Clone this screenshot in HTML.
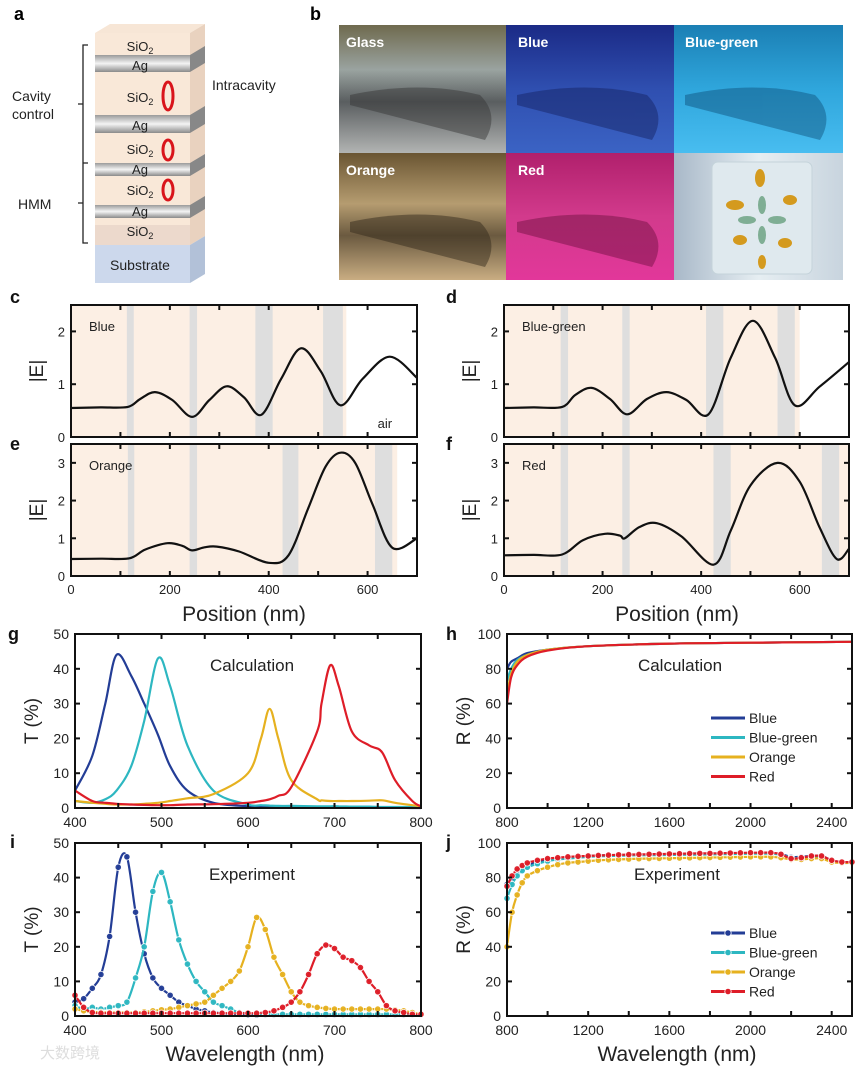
<!DOCTYPE html>
<html><head><meta charset="utf-8"><style>
html,body{margin:0;padding:0;background:#fff;}
svg{display:block;font-family:"Liberation Sans",Arial,sans-serif;}
</style></head><body>
<svg id="fig" width="865" height="1066" viewBox="0 0 865 1066" xmlns="http://www.w3.org/2000/svg">
<defs>
<linearGradient id="agG" x1="0" y1="0" x2="0" y2="1"><stop offset="0" stop-color="#9a9a9a"/><stop offset="0.5" stop-color="#f4f4f4"/><stop offset="1" stop-color="#8a8a8a"/></linearGradient>
<linearGradient id="pGlass" x1="0" y1="0" x2="0" y2="1"><stop offset="0" stop-color="#6f6a4e"/><stop offset="0.35" stop-color="#9aa3a0"/><stop offset="0.6" stop-color="#5a5e60"/><stop offset="1" stop-color="#b2b4b3"/></linearGradient>
<linearGradient id="pBlue" x1="0" y1="0" x2="0" y2="1"><stop offset="0" stop-color="#1b2a86"/><stop offset="0.5" stop-color="#2f4fb0"/><stop offset="1" stop-color="#3b63c4"/></linearGradient>
<linearGradient id="pBG" x1="0" y1="0" x2="0" y2="1"><stop offset="0" stop-color="#1b7fb4"/><stop offset="0.5" stop-color="#2fa6dc"/><stop offset="1" stop-color="#48bdf0"/></linearGradient>
<linearGradient id="pOr" x1="0" y1="0" x2="0" y2="1"><stop offset="0" stop-color="#6a5532"/><stop offset="0.4" stop-color="#b59c70"/><stop offset="0.65" stop-color="#6b5a40"/><stop offset="1" stop-color="#c9ad82"/></linearGradient>
<linearGradient id="pRed" x1="0" y1="0" x2="0" y2="1"><stop offset="0" stop-color="#b0206c"/><stop offset="0.5" stop-color="#d23a8c"/><stop offset="1" stop-color="#e2379a"/></linearGradient>
<linearGradient id="pSam" x1="0" y1="0" x2="1" y2="0"><stop offset="0" stop-color="#a8b8c8"/><stop offset="0.5" stop-color="#e6eef2"/><stop offset="1" stop-color="#c8d4de"/></linearGradient>
</defs>

<!-- Panel a -->
<g>
<text x="14" y="20" font-size="18" font-weight="bold">a</text>
<polygon points="95,33 110,24 205,24 190,33" fill="#f7e6d6"/>
<rect x="95" y="33" width="95" height="212" fill="#f9e8d8"/>
<polygon points="190,33 205,24 205,236 190,245" fill="#e9d2bf"/>
<rect x="95" y="55" width="95" height="17" fill="url(#agG)"/>
<polygon points="190,55 205,46 205,63 190,72" fill="#888"/>
<rect x="95" y="115" width="95" height="18" fill="url(#agG)"/>
<polygon points="190,115 205,106 205,124 190,133" fill="#888"/>
<rect x="95" y="163" width="95" height="13" fill="url(#agG)"/>
<polygon points="190,163 205,154 205,167 190,176" fill="#888"/>
<rect x="95" y="205" width="95" height="13" fill="url(#agG)"/>
<polygon points="190,205 205,196 205,209 190,218" fill="#888"/>
<rect x="95" y="225" width="95" height="20" fill="#ecd9cc"/>
<rect x="95" y="245" width="95" height="38" fill="#ccd8ec"/>
<polygon points="190,245 205,236 205,274 190,283" fill="#b2c1d8"/>
<g font-size="13" fill="#222" text-anchor="middle">
<text x="140" y="51">SiO<tspan font-size="9" dy="3">2</tspan></text>
<text x="140" y="70">Ag</text>
<text x="140" y="102">SiO<tspan font-size="9" dy="3">2</tspan></text>
<text x="140" y="130">Ag</text>
<text x="140" y="154">SiO<tspan font-size="9" dy="3">2</tspan></text>
<text x="140" y="174">Ag</text>
<text x="140" y="195">SiO<tspan font-size="9" dy="3">2</tspan></text>
<text x="140" y="216">Ag</text>
<text x="140" y="236">SiO<tspan font-size="9" dy="3">2</tspan></text>
<text x="140" y="270" font-size="14">Substrate</text>
</g>
<g fill="none" stroke="#d9141b" stroke-width="3">
<ellipse cx="168" cy="96" rx="5" ry="14"/>
<ellipse cx="168" cy="150" rx="5" ry="10"/>
<ellipse cx="168" cy="190" rx="5" ry="10"/>
</g>
<path d="M88,45 H83 V163 H88 M83,104 H78 M88,163 H83 V243 H88 M83,203 H78" fill="none" stroke="#222" stroke-width="1.3"/>
<text x="12" y="101" font-size="14" fill="#222">Cavity</text>
<text x="12" y="119" font-size="14" fill="#222">control</text>
<text x="18" y="209" font-size="14" fill="#222">HMM</text>
<text x="212" y="90" font-size="14" fill="#222">Intracavity</text>
</g>

<!-- Panel b -->
<g>
<text x="310" y="20" font-size="18" font-weight="bold">b</text>
<rect x="339" y="25" width="167" height="128" fill="url(#pGlass)"/>
<rect x="506" y="25" width="168" height="128" fill="url(#pBlue)"/>
<rect x="674" y="25" width="169" height="128" fill="url(#pBG)"/>
<rect x="339" y="153" width="167" height="127" fill="url(#pOr)"/>
<rect x="506" y="153" width="168" height="127" fill="url(#pRed)"/>
<rect x="674" y="153" width="169" height="127" fill="url(#pSam)"/>
<g opacity="0.45">
<path d="M350,95 Q420,80 480,95 Q500,115 485,140 L350,105Z" fill="#333"/>
<path d="M517,95 Q587,80 647,95 Q667,115 652,140 L517,105Z" fill="#14205e"/>
<path d="M685,95 Q755,80 815,95 Q835,115 820,140 L685,105Z" fill="#0d4d78"/>
<path d="M350,222 Q420,207 480,222 Q500,242 485,267 L350,232Z" fill="#2e2518"/>
<path d="M517,222 Q587,207 647,222 Q667,242 652,267 L517,232Z" fill="#6a0e3c"/>
</g>
<rect x="712" y="162" width="100" height="112" rx="6" fill="#dfe9ee" stroke="#c4d3da"/>
<g fill="#d49a1e"><ellipse cx="760" cy="178" rx="5" ry="9"/><ellipse cx="735" cy="205" rx="9" ry="5"/><ellipse cx="790" cy="200" rx="7" ry="5"/><ellipse cx="740" cy="240" rx="7" ry="5"/><ellipse cx="785" cy="243" rx="7" ry="5"/><ellipse cx="762" cy="262" rx="4" ry="7"/></g>
<g fill="#7fae94"><ellipse cx="762" cy="205" rx="4" ry="9"/><ellipse cx="762" cy="235" rx="4" ry="9"/><ellipse cx="747" cy="220" rx="9" ry="4"/><ellipse cx="777" cy="220" rx="9" ry="4"/></g>
<g font-size="14" font-weight="bold" fill="#fff">
<text x="346" y="47">Glass</text><text x="518" y="47">Blue</text><text x="685" y="47">Blue-green</text>
<text x="346" y="175">Orange</text><text x="518" y="175">Red</text>
</g>
</g>
<g id="charts"></g>
</svg>
<script>
// ---------- data: field profiles (position nm, |E|) ----------
const posBlue = [0,60,115,140,170,205,245,280,315,350,385,425,465,505,545,590,645,700];
const eBlue   = [0.55,0.56,0.57,0.72,0.85,0.7,0.38,0.7,0.96,0.75,0.42,1.1,1.68,1.25,0.6,1.1,1.52,1.12];
const posBG   = [0,60,118,145,178,215,250,290,330,370,415,460,505,550,590,640,700];
const eBG     = [0.55,0.56,0.57,0.8,0.93,0.72,0.43,0.72,0.85,0.7,0.43,1.5,2.2,1.5,0.6,0.95,1.42];
const posOr   = [0,60,118,150,195,225,245,270,295,340,400,440,480,515,545,575,610,650,700];
const eOr     = [0.45,0.46,0.47,0.7,0.87,0.8,0.68,0.76,0.78,0.65,0.35,0.55,1.8,2.9,3.27,3.0,1.9,0.75,1.0];
const posRed  = [0,60,118,160,205,235,245,275,310,360,425,460,500,555,600,640,675,700];
const eRed    = [0.55,0.56,0.57,0.95,1.12,1.07,1.0,1.3,1.4,1.05,0.3,1.2,2.4,3.0,2.5,1.3,0.45,0.72];
// ---------- data: calculated transmission ----------
const wlCalc = [400,420,435,448,465,480,496,510,530,560,600,615,625,635,650,680,685,695,705,720,740,755,770,790,800];
const tBlueCalc = [5,15,30,44,38,30,21,12,5,1.5,0.5,0.4,0.4,0.3,0.3,0.2,0.2,0.2,0.2,0.1,0.1,0.1,0.1,0,0];
const tBGCalc   = [2,1.5,2.5,5,12,25,43,35,18,5,1,0.8,0.7,0.6,0.6,0.5,0.5,0.5,0.5,0.4,0.4,0.3,0.3,0.3,0.3];
const tOrCalc   = [2,1.5,1.2,1,1,1.2,1.5,2,2.8,4,10,20,28.5,20,8,2.5,2.2,2,2,2,2.1,2.2,1.5,0.8,0.5];
const tRedCalc  = [5,2,1.5,1.2,1,0.9,0.8,0.8,1,1.1,1.5,2,2.5,3.5,6,22,30,41,35,22,18,16,8,2,0.5];
// ---------- data: calculated reflection ----------
const wlR = [800,820,850,900,1000,1200,1600,2000,2500];
const rBlueCalc = [80,84,86,89,91,93,94.5,95,95.5];
const rBGCalc   = [73,80,85,88,91,93,94.5,95,95.5];
const rOrCalc   = [65,77,84,88,91,93,94.5,95,95.5];
const rRedCalc  = [60,75,82,87,90.5,93,94.5,95,95.5];
// ---------- data: experimental transmission (10 nm steps) ----------
const wlExp = [400,410,420,430,440,450,460,470,480,490,500,510,520,530,540,550,560,570,580,590,600,610,620,630,640,650,660,670,680,690,700,710,720,730,740,750,760,770,780,790,800];
const tBlueExp = [4,5,8,12,23,43,46,30,18,11,8,6,4,3,2,1.5,1,0.8,0.6,0.5,0.4,0.3,0.3,0.3,0.3,0.3,0.3,0.3,0.3,0.3,0.3,0.3,0.3,0.3,0.3,0.3,0.3,0.3,0.3,0.3,0.3];
const tBGExp   = [3,2,2.5,2,2.5,3,4,11,20,36,41.5,33,22,15,10,7,4,3,2,1,0.8,0.6,0.5,0.5,0.5,0.5,0.5,0.5,0.5,0.5,0.5,0.5,0.5,0.5,0.5,0.5,0.5,0.5,0.5,0.5,0.5];
const tOrExp   = [2,1.5,1.2,1.1,1,1,1,1,1.2,1.5,1.8,2,2.5,3,3.5,4,6,8,10,13,20,28.5,25,17,12,7,4,3,2.5,2.2,2,2,2,2,2,2,2,1.8,1.5,1,0.5];
const tRedExp  = [6,2.5,1,0.8,0.8,0.8,0.8,0.8,0.8,0.8,0.8,0.8,0.8,0.8,0.8,0.8,0.8,0.8,0.8,0.8,0.8,0.8,1,1.5,2.5,4,7,12,18,20.5,19.5,17,16,14,10,7,3,1.5,1,0.5,0.5];
// ---------- data: experimental reflection (50 nm steps) ----------
const wlRExp = [800,825,850,875,900,950,1000,1050,1100,1150,1200,1250,1300,1350,1400,1450,1500,1550,1600,1650,1700,1750,1800,1850,1900,1950,2000,2050,2100,2150,2200,2250,2300,2350,2400,2450,2500];
const rBlueExp = [76,80,84,86,87,89,90,91,91.5,92,92.5,92.8,93,93,93.2,93.3,93.3,93.4,93.5,93.5,93.5,93.6,93.7,93.8,93.9,94,94,94,94,93.5,92,92,92.5,92.5,90,89,89];
const rBGExp   = [68,76,81,84,86,88,89.5,90.5,91,91.5,92,92.3,92.5,92.6,92.8,92.9,93,93,93.1,93.2,93.2,93.3,93.4,93.5,93.6,93.7,93.8,93.8,93.8,93.2,91.5,91.5,92,92,89.5,88.5,88.5];
const rOrExp   = [40,60,70,77,81,84,86,87.5,88.5,89,89.5,90,90.3,90.5,90.7,90.9,91,91.1,91.2,91.3,91.4,91.5,91.6,91.7,91.8,91.9,92,92,92,91.5,90.5,90.5,91,91,89,88.5,88.5];
const rRedExp  = [75,81,85,87,88.5,90,91,91.5,92,92.3,92.5,92.8,93,93.2,93.3,93.4,93.5,93.6,93.7,93.8,93.9,94,94,94.1,94.2,94.3,94.4,94.4,94.4,93.5,91,91.5,92.5,92.5,90,89,89];
// ---------- ticks ----------
const posTicks = [0,200,400,600];
const eTicksCD = [0,1,2];
const eTicksEF = [0,1,2,3];
const tTicks = [0,10,20,30,40,50];
const wlTicks = [400,500,600,700,800];
const rTicks = [0,20,40,60,80,100];
const wlRTicks = [800,1200,1600,2000,2400];
const seriesNames = ["Blue","Blue-green","Orange","Red"];
const COLORS = ["#233d96","#2db7c1","#e6b11f","#de1d28"];

const NS="http://www.w3.org/2000/svg";
const root=document.getElementById('charts');
function el(tag,attrs,parent){const e=document.createElementNS(NS,tag);for(const k in attrs)e.setAttribute(k,attrs[k]);(parent||root).appendChild(e);return e;}
function txt(s,attrs,parent){const e=el('text',attrs,parent);e.textContent=s;return e;}
function axes(box,xmin,xmax,ymin,ymax){
  return {X:v=>box.x0+(v-xmin)/(xmax-xmin)*(box.x1-box.x0), Y:v=>box.y1-(v-ymin)/(ymax-ymin)*(box.y1-box.y0)};
}
function smooth(xs,ys,ax){
  const p=xs.map((x,i)=>[ax.X(x),ax.Y(ys[i])]);
  let d='M'+p[0][0].toFixed(1)+','+p[0][1].toFixed(1);
  for(let i=0;i<p.length-1;i++){
    const p0=p[Math.max(0,i-1)],p1=p[i],p2=p[i+1],p3=p[Math.min(p.length-1,i+2)];
    const c1=[p1[0]+(p2[0]-p0[0])/6,p1[1]+(p2[1]-p0[1])/6];
    const c2=[p2[0]-(p3[0]-p1[0])/6,p2[1]-(p3[1]-p1[1])/6];
    d+=' C'+c1[0].toFixed(1)+','+c1[1].toFixed(1)+' '+c2[0].toFixed(1)+','+c2[1].toFixed(1)+' '+p2[0].toFixed(1)+','+p2[1].toFixed(1);
  }
  return d;
}
function frame(g,box,ax,xt,yt,showXLab,fs){
  for(const v of xt){const x=ax.X(v);
    el('line',{x1:x,x2:x,y1:box.y1,y2:box.y1-5,stroke:'#111','stroke-width':2},g);
    el('line',{x1:x,x2:x,y1:box.y0,y2:box.y0+5,stroke:'#111','stroke-width':2},g);
    if(showXLab){const t=txt(String(v),{x:x,y:box.y1+17,'font-size':fs,'text-anchor':'middle',fill:'#222'},g);}
  }
  for(const v of yt){const y=ax.Y(v);
    el('line',{x1:box.x0,x2:box.x0+5,y1:y,y2:y,stroke:'#111','stroke-width':2},g);
    el('line',{x1:box.x1,x2:box.x1-5,y1:y,y2:y,stroke:'#111','stroke-width':2},g);
    txt(String(v),{x:box.x0-6,y:y+5,'font-size':fs,'text-anchor':'end',fill:'#222'},g);
  }
  el('rect',{x:box.x0,y:box.y0,width:box.x1-box.x0,height:box.y1-box.y0,fill:'none',stroke:'#111','stroke-width':2},g);
}
// ---------- field panels ----------
function fieldPanel(name,box,ymax,yt,xs,ys,bands,pinkEnd,label,showX,letter,lx,ly,airLabel){
  const g=el('g',{});
  
  
  const ax=axes(box,0,700,0,ymax);
  el('rect',{x:box.x0,y:box.y0,width:ax.X(pinkEnd)-box.x0,height:box.y1-box.y0,fill:'#fcefe4'},g);
  for(const b of bands){el('rect',{x:ax.X(b[0]),y:box.y0,width:ax.X(b[1])-ax.X(b[0]),height:box.y1-box.y0,fill:'#dedede'},g);}
  const p=el('path',{d:smooth(xs,ys,ax),fill:'none',stroke:'#111','stroke-width':2.2},g);
  
  
  frame(g,box,ax,[0,100,200,300,400,500,600],yt,false,13);
  if(showX){for(const v of posTicks)txt(String(v),{x:ax.X(v),y:box.y1+18,'font-size':13,'text-anchor':'middle',fill:'#222'},g);}
  txt(label,{x:box.x0+18,y:box.y0+26,'font-size':13,fill:'#222'},g);
  txt('|E|',{transform:`translate(${box.x0-28},${(box.y0+box.y1)/2}) rotate(-90)`,'font-size':19,'text-anchor':'middle',fill:'#222'},g);
  txt(letter,{x:lx,y:ly,'font-size':18,'font-weight':'bold',fill:'#111'},g);
  if(airLabel)txt('air',{x:ax.X(635),y:box.y1-9,'font-size':13,'text-anchor':'middle',fill:'#222'},g);
}
const bC={x0:71,x1:417,y0:305,y1:437}, bE={x0:71,x1:417,y0:444,y1:576};
const bD={x0:504,x1:849,y0:305,y1:437}, bF={x0:504,x1:849,y0:444,y1:576};
fieldPanel('panel-c-blue-field',bC,2.5,eTicksCD,posBlue,eBlue,[[113,127],[240,255],[373,408],[510,550]],557,'Blue',false,'c',10,303,true);
fieldPanel('panel-e-orange-field',bE,3.5,eTicksEF,posOr,eOr,[[115,128],[240,255],[428,460],[615,650]],660,'Orange',true,'e',10,450,false);
fieldPanel('panel-d-bluegreen-field',bD,2.5,eTicksCD,posBG,eBG,[[115,130],[240,255],[410,445],[555,590]],600,'Blue-green',false,'d',446,303,false);
fieldPanel('panel-f-red-field',bF,3.5,eTicksEF,posRed,eRed,[[115,130],[240,255],[425,460],[645,680]],700,'Red',true,'f',446,450,false);
txt('Position (nm)',{x:244,y:621,'font-size':21,'text-anchor':'middle',fill:'#222'});
txt('Position (nm)',{x:677,y:621,'font-size':21,'text-anchor':'middle',fill:'#222'});

// ---------- spectra panels ----------
function specPanel(name,box,xmin,xmax,xt,ymax,yt,xs,seriesList,markers,title,tx,ytitle,letter,lx,ly,legend){
  const g=el('g',{});
  
  
  const ax=axes(box,xmin,xmax,0,ymax);
  seriesList.forEach((ys,i)=>{
    const p=el('path',{d:smooth(xs,ys,ax),fill:'none',stroke:COLORS[i],'stroke-width':2.2},g);
    
    
    if(markers){xs.forEach((x,j)=>{
      const c=el('circle',{cx:ax.X(x),cy:ax.Y(ys[j]),r:3.2,fill:COLORS[i],stroke:'#fff','stroke-width':0.8,opacity:0.95},g);
      
      
    });}
  });
  const minor=[];const step=(xt[1]-xt[0])/2;for(let v=xt[0];v<=xmax;v+=step)minor.push(v);
  frame(g,box,ax,minor,yt,false,14);
  for(const v of xt)txt(String(v),{x:ax.X(v),y:box.y1+19,'font-size':14,'text-anchor':'middle',fill:'#222'},g);
  txt(title,{x:tx,y:box.y0+37,'font-size':17,'text-anchor':'middle',fill:'#222'},g);
  txt(ytitle,{transform:`translate(${box.x0-37},${(box.y0+box.y1)/2}) rotate(-90)`,'font-size':19,'text-anchor':'middle',fill:'#222'},g);
  txt(letter,{x:lx,y:ly,'font-size':18,'font-weight':'bold',fill:'#111'},g);
  if(legend){seriesNames.forEach((n,i)=>{
    const y=legend.y+i*19.5;
    const l=el('line',{x1:legend.x,x2:legend.x+34,y1:y,y2:y,stroke:COLORS[i],'stroke-width':3},g);
    
    
    if(markers)el('circle',{cx:legend.x+17,cy:y,r:3.2,fill:COLORS[i],stroke:'#fff','stroke-width':0.8},g);
    const t=txt(n,{x:legend.x+38,y:y+5,'font-size':14,fill:'#222'},g);
    
    
  });}
}
const bG={x0:75,x1:421,y0:634,y1:808}, bH={x0:507,x1:852,y0:634,y1:808};
const bI={x0:75,x1:421,y0:843,y1:1016}, bJ={x0:507,x1:852,y0:843,y1:1016};
specPanel('panel-g-calc-transmission',bG,400,800,wlTicks,50,tTicks,wlCalc,[tBlueCalc,tBGCalc,tOrCalc,tRedCalc],false,'Calculation',252,'T (%)','g',8,640,null);
specPanel('panel-h-calc-reflection',bH,800,2500,wlRTicks,100,rTicks,wlR,[rBlueCalc,rBGCalc,rOrCalc,rRedCalc],false,'Calculation',680,'R (%)','h',446,640,{x:711,y:718});
specPanel('panel-i-exp-transmission',bI,400,800,wlTicks,50,tTicks,wlExp,[tBlueExp,tBGExp,tOrExp,tRedExp],true,'Experiment',252,'T (%)','i',10,848,null);
specPanel('panel-j-exp-reflection',bJ,800,2500,wlRTicks,100,rTicks,wlRExp,[rBlueExp,rBGExp,rOrExp,rRedExp],true,'Experiment',677,'R (%)','j',446,848,{x:711,y:933});
txt('Wavelength (nm)',{x:245,y:1061,'font-size':21,'text-anchor':'middle',fill:'#222'});
txt('Wavelength (nm)',{x:677,y:1061,'font-size':21,'text-anchor':'middle',fill:'#222'});
txt('大数跨境',{x:40,y:1058,'font-size':15,fill:'#ddd'});
</script>
</body></html>
